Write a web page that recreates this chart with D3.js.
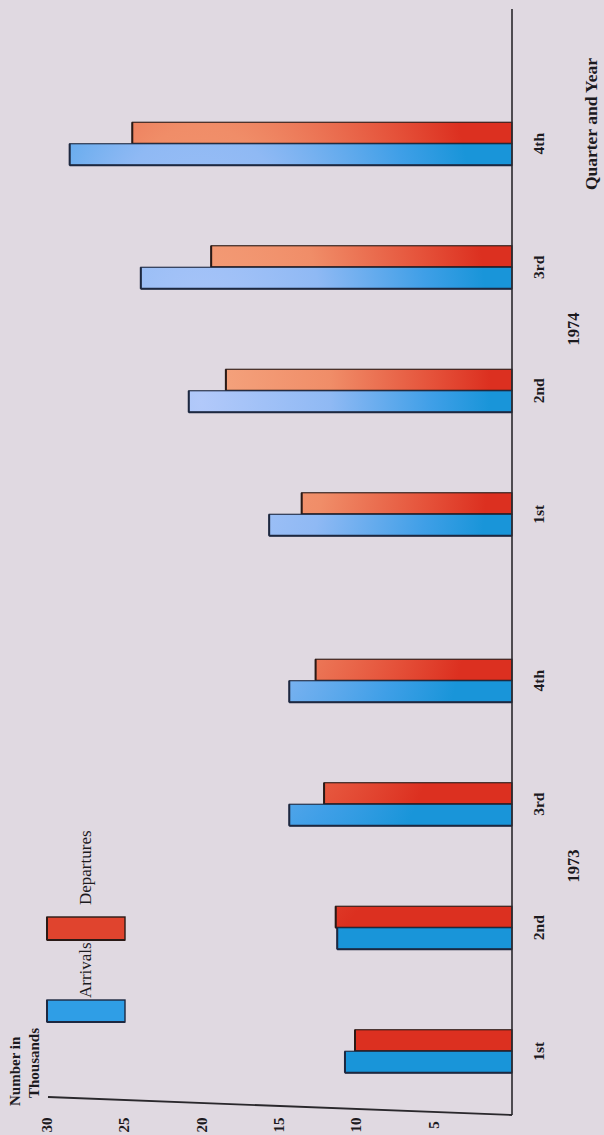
<!DOCTYPE html>
<html><head><meta charset="utf-8">
<script src="https://cdn.jsdelivr.net/npm/d3@7"></script>
<style>html,body{margin:0;padding:0;background:#e0d9e1;} svg{display:block}</style>
</head><body><svg id="chart" width="604" height="1135"></svg>
<script>
// ---- data ----
const years = ["1973", "1974"];
const quarters = ["1st", "2nd", "3rd", "4th"];
const seriesNames = ["Departures", "Arrivals"];
const arrivals1973 = [10.8, 11.3, 14.4, 14.4];
const departures1973 = [10.15, 11.4, 12.15, 12.7];
const arrivals1974 = [15.7, 20.9, 24.0, 28.6];
const departures1974 = [13.6, 18.5, 19.45, 24.55];
const valueTicks = [30, 25, 20, 15, 10, 5];
const axisTitle = ["Number in", "Thousands"];
const categoryTitle = "Quarter and Year";

const rows = [];
years.forEach((yr, yi) => {
  const arr = yi === 0 ? arrivals1973 : arrivals1974;
  const dep = yi === 0 ? departures1973 : departures1974;
  quarters.forEach((q, qi) => {
    rows.push({year: yr, quarter: q, series: "Departures", value: dep[qi]});
    rows.push({year: yr, quarter: q, series: "Arrivals", value: arr[qi]});
  });
});

const svg = d3.select("#chart");
const font = "'Liberation Serif', 'DejaVu Serif', serif";
const ink = "#1c1a1e";

// ---- scales (chart is drawn rotated: values run right-to-left, categories bottom-to-top) ----
const x = d3.scaleLinear().domain([0, 30]).range([512, 48]);
const yearBand = d3.scaleBand().domain(years).range([1113, 82]).paddingInner(0.08);
const quarterBand = d3.scaleBand().domain(quarters).range([yearBand.bandwidth(), 0]);
const seriesBand = d3.scaleBand().domain(seriesNames).range([-21.5, 21.5]);
const center = (yr, q) => yearBand(yr) + quarterBand(q) + quarterBand.bandwidth() / 2;

// ---- gradients (photo lighting) ----
const defs = svg.append("defs");
function grad(id, stops) {
  const g = defs.append("radialGradient").attr("id", id)
    .attr("gradientUnits", "userSpaceOnUse")
    .attr("cx", 200).attr("cy", 400).attr("r", 290)
    .attr("gradientTransform", "translate(200 400) scale(1 2.1) translate(-200 -400)");
  stops.forEach(s => g.append("stop").attr("offset", s[0]).attr("stop-color", s[1]));
}
grad("gArr", [[0, "#b2c9fa"], [0.45, "#8fb9f4"], [0.8, "#3f9fe7"], [1, "#1995d9"]]);
grad("gDep", [[0, "#f5a680"], [0.45, "#f08d68"], [0.8, "#e5523a"], [1, "#dc3020"]]);
const fillOf = s => s === "Arrivals" ? "url(#gArr)" : "url(#gDep)";
const edgeOf = s => s === "Arrivals" ? "#1d2840" : "#2a1a16";

// ---- bars ----
const bars = svg.append("g");
const bg = bars.selectAll("g.bar").data(rows).join("g").attr("class", "bar");
bg.append("rect")
  .attr("x", d => x(d.value))
  .attr("y", d => center(d.year, d.quarter) + seriesBand(d.series))
  .attr("width", d => x(0) - x(d.value))
  .attr("height", seriesBand.bandwidth())
  .attr("fill", d => fillOf(d.series))
  .attr("stroke", d => edgeOf(d.series))
  .attr("stroke-width", 1.1);
bg.append("line")
  .attr("x1", d => x(d.value)).attr("x2", x(0))
  .attr("y1", d => center(d.year, d.quarter) + seriesBand(d.series) + seriesBand.bandwidth())
  .attr("y2", d => center(d.year, d.quarter) + seriesBand(d.series) + seriesBand.bandwidth())
  .attr("stroke", d => edgeOf(d.series)).attr("stroke-width", 2.2);
bg.append("line")
  .attr("x1", d => x(d.value)).attr("x2", d => x(d.value))
  .attr("y1", d => center(d.year, d.quarter) + seriesBand(d.series))
  .attr("y2", d => center(d.year, d.quarter) + seriesBand(d.series) + seriesBand.bandwidth())
  .attr("stroke", d => edgeOf(d.series)).attr("stroke-width", 2);

// ---- axes ----
svg.append("line").attr("x1", x(0)).attr("x2", x(0)).attr("y1", 9).attr("y2", 1115)
  .attr("stroke", "#2a282c").attr("stroke-width", 1.6);
svg.append("line").attr("x1", x(30)).attr("x2", x(0)).attr("y1", 1097).attr("y2", 1115)
  .attr("stroke", "#2a282c").attr("stroke-width", 1.8);

function rtext(px, py, str, opts) {
  opts = opts || {};
  return svg.append("text")
    .attr("transform", `translate(${px},${py}) rotate(-90)`)
    .attr("text-anchor", opts.anchor || "middle")
    .attr("dominant-baseline", "central")
    .attr("font-family", font)
    .attr("font-size", opts.size || 14)
    .attr("font-weight", opts.weight || "normal")
    .attr("fill", ink)
    .text(str);
}

// value tick labels
valueTicks.forEach(v => rtext(x(v) - 1, 1125, String(v), {weight: "bold", size: 15}));

// quarter labels
years.forEach(yr => quarters.forEach(q => rtext(538, center(yr, q), q, {weight: "bold", size: 15.5})));

// year labels
years.forEach(yr => rtext(573, yearBand(yr) + yearBand.bandwidth() / 2, yr, {weight: "bold", size: 16.5}));

// category title
rtext(591, 124, categoryTitle, {size: 17.5, weight: "bold"});

// value axis title
rtext(15, 1106, axisTitle[0], {anchor: "start", size: 15, weight: "bold"});
rtext(34, 1098, axisTitle[1], {anchor: "start", size: 15, weight: "bold"});

// ---- legend ----
const legend = [
  {name: "Arrivals", y0: 1000, y1: 1022, tx: 998},
  {name: "Departures", y0: 917, y1: 940, tx: 905}
];
legend.forEach(l => {
  svg.append("rect").attr("x", 47).attr("y", l.y0).attr("width", 78).attr("height", l.y1 - l.y0)
    .attr("fill", l.name === "Arrivals" ? "#2f9ee6" : "#e0442e")
    .attr("stroke", edgeOf(l.name)).attr("stroke-width", 1.4);
  svg.append("line").attr("x1", 47).attr("x2", 125).attr("y1", l.y1).attr("y2", l.y1)
    .attr("stroke", edgeOf(l.name)).attr("stroke-width", 2.2);
  svg.append("line").attr("x1", 47).attr("x2", 47).attr("y1", l.y0).attr("y2", l.y1)
    .attr("stroke", edgeOf(l.name)).attr("stroke-width", 2);
  rtext(85, l.tx, l.name, {anchor: "start", size: 17});
});
</script>
</body></html>
